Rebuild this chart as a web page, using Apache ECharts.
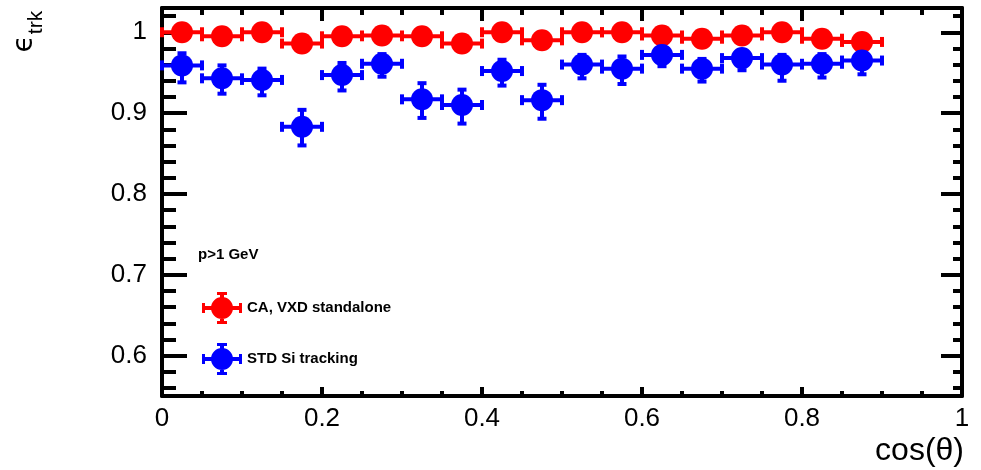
<!DOCTYPE html>
<html>
<head>
<meta charset="utf-8">
<script src="https://cdn.jsdelivr.net/npm/echarts@6/dist/echarts.min.js"></script>
<style>
  html, body { margin: 0; padding: 0; background: #fff; }
  #chart { width: 981px; height: 470px; }
</style>
</head>
<body>
<div id="chart"></div>
<script>
// Track-finding efficiency vs cos(theta), p > 1 GeV
const binLow  = [0.00, 0.05, 0.10, 0.15, 0.20, 0.25, 0.30, 0.35, 0.40, 0.45, 0.50, 0.55, 0.60, 0.65, 0.70, 0.75, 0.80, 0.85];
const binHigh = [0.05, 0.10, 0.15, 0.20, 0.25, 0.30, 0.35, 0.40, 0.45, 0.50, 0.55, 0.60, 0.65, 0.70, 0.75, 0.80, 0.85, 0.90];
const binCenter = [0.025, 0.075, 0.125, 0.175, 0.225, 0.275, 0.325, 0.375, 0.425, 0.475, 0.525, 0.575, 0.625, 0.675, 0.725, 0.775, 0.825, 0.875];

// CA, VXD standalone
const caEff     = [1.000, 0.995, 1.000, 0.986, 0.995, 0.996, 0.995, 0.986, 1.000, 0.990, 1.000, 1.000, 0.996, 0.992, 0.996, 1.000, 0.992, 0.988];
const caErrUp   = [0.000, 0.003, 0.000, 0.004, 0.003, 0.003, 0.003, 0.004, 0.000, 0.004, 0.000, 0.000, 0.003, 0.003, 0.003, 0.000, 0.003, 0.004];
const caErrDown = [0.003, 0.005, 0.003, 0.007, 0.005, 0.005, 0.005, 0.007, 0.003, 0.006, 0.003, 0.003, 0.005, 0.006, 0.005, 0.003, 0.006, 0.007];

// STD Si tracking
const stdEff     = [0.959, 0.943, 0.941, 0.883, 0.947, 0.961, 0.917, 0.910, 0.952, 0.916, 0.960, 0.955, 0.972, 0.955, 0.968, 0.960, 0.961, 0.965];
const stdErrUp   = [0.015, 0.016, 0.014, 0.021, 0.015, 0.012, 0.020, 0.019, 0.014, 0.019, 0.012, 0.015, 0.010, 0.012, 0.010, 0.012, 0.012, 0.010];
const stdErrDown = [0.021, 0.019, 0.019, 0.023, 0.019, 0.016, 0.023, 0.023, 0.018, 0.023, 0.017, 0.019, 0.014, 0.016, 0.015, 0.020, 0.017, 0.017];

const seriesNames = ['CA, VXD standalone', 'STD Si tracking'];

// Axis ticks and labels
const xTickValues = [0, 0.2, 0.4, 0.6, 0.8, 1];
const xTickLabels = ['0', '0.2', '0.4', '0.6', '0.8', '1'];
const yTickValues = [0.6, 0.7, 0.8, 0.9, 1.0];
const yTickLabels = ['0.6', '0.7', '0.8', '0.9', '1'];
const yMinorValues = [0.56, 0.58, 0.62, 0.64, 0.66, 0.68, 0.72, 0.74, 0.76, 0.78,
                      0.82, 0.84, 0.86, 0.88, 0.92, 0.94, 0.96, 0.98, 1.02];

function buildPoints(eff, up, down) {
  return binCenter.map((c, i) => [c, eff[i], binLow[i], binHigh[i], eff[i] - down[i], eff[i] + up[i]]);
}

function lookupLabel(values, labels, v) {
  for (let i = 0; i < values.length; i++) {
    if (Math.abs(values[i] - v) < 1e-6) return labels[i];
  }
  return '';
}

// Error-bar marker: horizontal bin-width bar, vertical error bar, end caps, filled circle
function renderPoint(params, api) {
  const x = api.value(0), y = api.value(1);
  const c = api.coord([x, y]);
  const pl = api.coord([api.value(2), y]);
  const ph = api.coord([api.value(3), y]);
  const pd = api.coord([x, api.value(4)]);
  const pu = api.coord([x, api.value(5)]);
  const color = api.visual('color');
  const lw = 4, capH = 10, capV = 9, r = 11;
  const seg = (x1, y1, x2, y2) => ({
    type: 'line',
    shape: { x1, y1, x2, y2 },
    style: { stroke: color, lineWidth: lw }
  });
  return {
    type: 'group',
    children: [
      seg(pl[0], c[1], ph[0], c[1]),
      seg(pl[0], c[1] - capH / 2, pl[0], c[1] + capH / 2),
      seg(ph[0], c[1] - capH / 2, ph[0], c[1] + capH / 2),
      seg(c[0], pd[1], c[0], pu[1]),
      seg(c[0] - capV / 2, pd[1], c[0] + capV / 2, pd[1]),
      seg(c[0] - capV / 2, pu[1], c[0] + capV / 2, pu[1]),
      { type: 'circle', shape: { cx: c[0], cy: c[1], r }, style: { fill: color } }
    ]
  };
}

const legendIcon = 'path://M0 14H40V18H0Z M0 11H3V21H0Z M37 11H40V21H37Z M18 0H22V32H18Z M15 0H25V3H15Z M15 29H25V32H15Z M9 16A11 11 0 1 1 31 16A11 11 0 1 1 9 16Z';

const font = 'Liberation Sans, Arial, Helvetica, sans-serif';
const black = '#000';

const frameRect = { left: 162, right: 19, top: 8, bottom: 74, containLabel: false, outerBoundsMode: 'none' };

const xAxisBase = {
  type: 'value', min: 0, max: 1, interval: 0.2,
  splitLine: { show: false },
  axisLine: { show: true, onZero: false, lineStyle: { color: black, width: 4 } }
};
const yAxisBase = {
  type: 'value', min: 0.55, max: 1.03,
  splitLine: { show: false }
};

const chart = echarts.init(document.getElementById('chart'), null, { renderer: 'canvas' });
chart.setOption({
  animation: false,
  backgroundColor: '#fff',
  // grid 0: frame with major ticks and labels; grid 1: minor ticks of the value axis
  grid: [Object.assign({}, frameRect), Object.assign({}, frameRect)],
  xAxis: [
    Object.assign({}, xAxisBase, {
      gridIndex: 0, position: 'bottom',
      axisTick: { show: true, inside: true, length: 9, lineStyle: { color: black, width: 4 } },
      minorTick: { show: true, splitNumber: 4, length: 5, lineStyle: { color: black, width: 4 } },
      axisLabel: {
        show: true, margin: 10, color: black, fontSize: 26, fontFamily: font,
        formatter: v => lookupLabel(xTickValues, xTickLabels, v)
      }
    }),
    Object.assign({}, xAxisBase, {
      gridIndex: 0, position: 'top',
      axisTick: { show: true, inside: true, length: 13, lineStyle: { color: black, width: 4 } },
      minorTick: { show: true, splitNumber: 4, length: 7, lineStyle: { color: black, width: 4 } },
      axisLabel: { show: false }
    }),
    {
      gridIndex: 1, type: 'value', min: 0, max: 1, show: false
    }
  ],
  yAxis: [
    Object.assign({}, yAxisBase, {
      gridIndex: 0, position: 'left',
      axisLine: { show: true, onZero: false, lineStyle: { color: black, width: 4 } },
      axisTick: { show: true, inside: true, length: 25, customValues: yTickValues, lineStyle: { color: black, width: 4 } },
      axisLabel: {
        show: true, margin: 15, color: black, fontSize: 26, fontFamily: font,
        customValues: yTickValues,
        formatter: v => lookupLabel(yTickValues, yTickLabels, v)
      }
    }),
    Object.assign({}, yAxisBase, {
      gridIndex: 0, position: 'right',
      axisLine: { show: true, onZero: false, lineStyle: { color: black, width: 4 } },
      axisTick: { show: true, inside: true, length: 21, customValues: yTickValues, lineStyle: { color: black, width: 4 } },
      axisLabel: { show: false }
    }),
    Object.assign({}, yAxisBase, {
      gridIndex: 1, position: 'left',
      axisLine: { show: false },
      axisTick: { show: true, inside: true, length: 14, customValues: yMinorValues, lineStyle: { color: black, width: 4 } },
      axisLabel: { show: false }
    }),
    Object.assign({}, yAxisBase, {
      gridIndex: 1, position: 'right',
      axisLine: { show: false },
      axisTick: { show: true, inside: true, length: 9, customValues: yMinorValues, lineStyle: { color: black, width: 4 } },
      axisLabel: { show: false }
    })
  ],
  legend: {
    orient: 'vertical',
    left: 202, top: 292, padding: 0,
    itemWidth: 40, itemHeight: 32, itemGap: 19,
    selectedMode: false,
    textStyle: { color: black, fontSize: 15, fontWeight: 'bold', fontFamily: font },
    data: [
      { name: seriesNames[0], icon: legendIcon },
      { name: seriesNames[1], icon: legendIcon }
    ]
  },
  series: [
    {
      name: seriesNames[0], type: 'custom',
      xAxisIndex: 0, yAxisIndex: 0,
      itemStyle: { color: '#ff0000' },
      renderItem: renderPoint,
      encode: { x: [0, 2, 3], y: [1, 4, 5] },
      data: buildPoints(caEff, caErrUp, caErrDown),
      silent: true
    },
    {
      name: seriesNames[1], type: 'custom',
      xAxisIndex: 0, yAxisIndex: 0,
      itemStyle: { color: '#0000ff' },
      renderItem: renderPoint,
      encode: { x: [0, 2, 3], y: [1, 4, 5] },
      data: buildPoints(stdEff, stdErrUp, stdErrDown),
      silent: true
    }
  ],
  graphic: [
    {
      type: 'text', x: 24.5, y: 44, rotation: Math.PI / 2,
      style: { text: 'ϵ', fontSize: 28, fontFamily: 'DejaVu Sans, sans-serif', fill: black, textAlign: 'center', textVerticalAlign: 'middle' }
    },
    {
      type: 'text', x: 36.5, y: 22.5, rotation: Math.PI / 2,
      style: { text: 'trk', fontSize: 21, fontFamily: font, fill: black, textAlign: 'center', textVerticalAlign: 'middle' }
    },
    {
      type: 'text', x: 964, y: 451,
      style: { text: 'cos(θ)', fontSize: 32, fontFamily: font, fill: black, textAlign: 'right', textVerticalAlign: 'middle' }
    },
    {
      type: 'text', x: 198, y: 255,
      style: { text: 'p>1 GeV', fontSize: 15, fontWeight: 'bold', fontFamily: font, fill: black, textAlign: 'left', textVerticalAlign: 'middle' }
    }
  ]
});
</script>
</body>
</html>
